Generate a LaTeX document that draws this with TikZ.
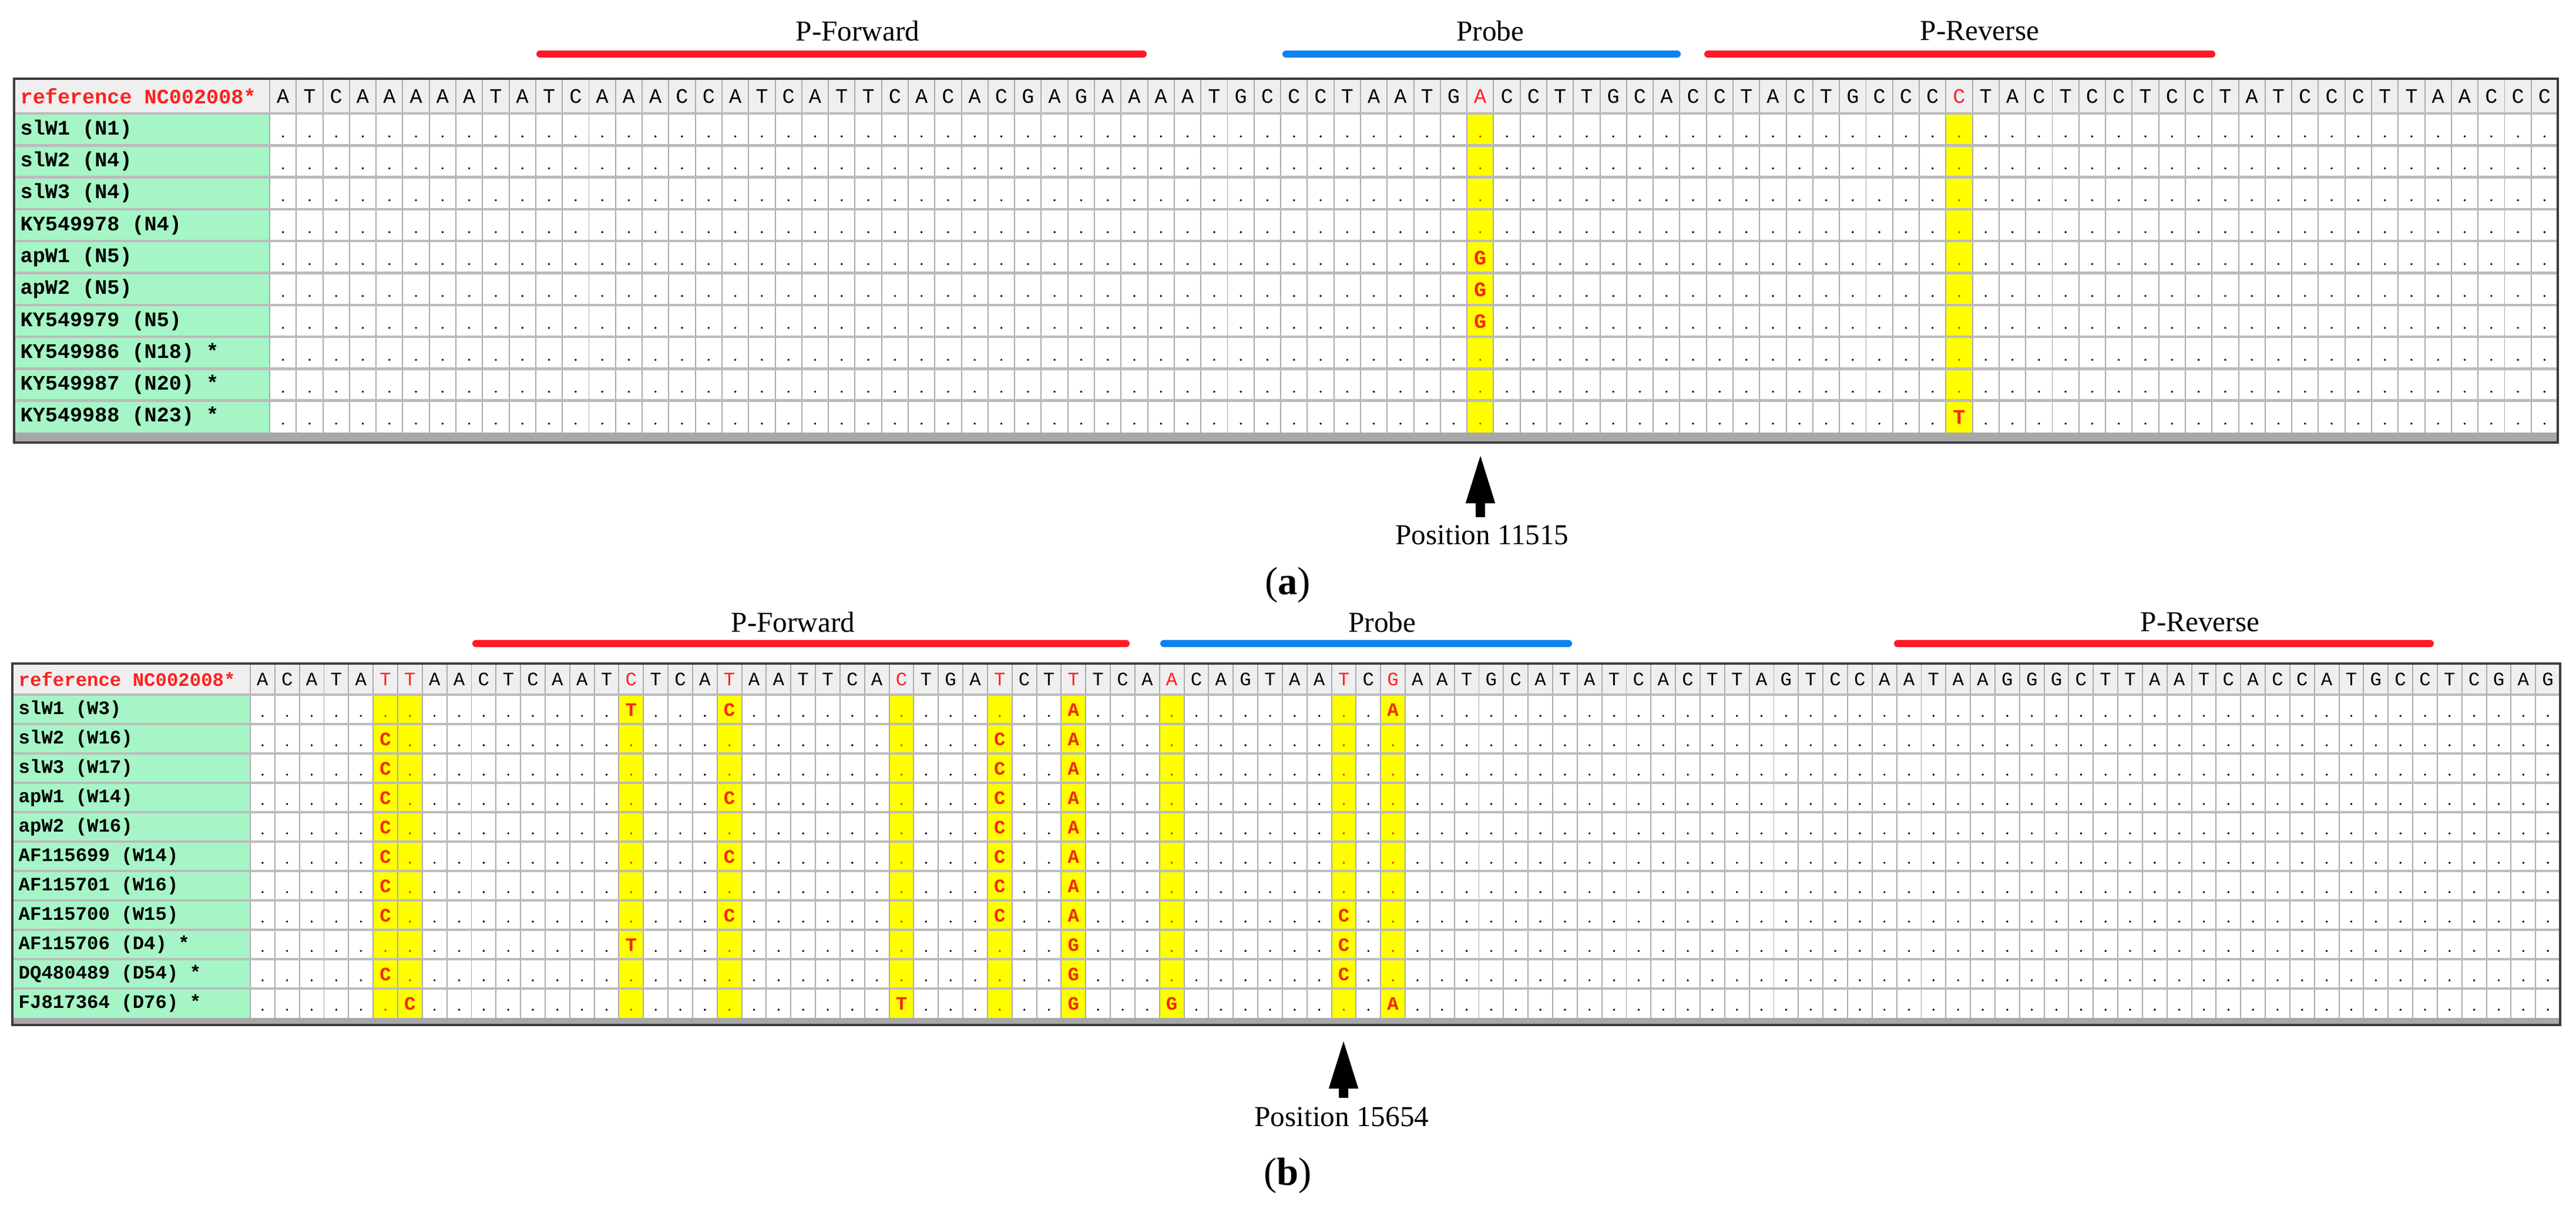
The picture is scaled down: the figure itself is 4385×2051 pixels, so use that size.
\documentclass[tikz,border=0pt]{standalone}
\usepackage{fontspec}
\usepackage{xstring}
\setmainfont{Liberation Serif}
\newfontfamily\mono{Liberation Mono}
\usetikzlibrary{arrows.meta}
\definecolor{hdrbg}{HTML}{EFEFEF}
\definecolor{namebg}{HTML}{A6F5C6}
\definecolor{yel}{HTML}{FFFF00}
\definecolor{mutred}{HTML}{F22A10}
\definecolor{refred}{HTML}{FF2020}
\definecolor{gridg}{HTML}{ABABAB}
\definecolor{rowg}{HTML}{BBBBBB}
\definecolor{stripg}{HTML}{A8A8A8}
\definecolor{bord}{HTML}{3C3C3C}
\definecolor{barred}{HTML}{FF1A25}
\definecolor{barblue}{HTML}{0A84F0}
\tikzset{
  gridv/.style={draw=gridg,line width=0.55pt},
  rowsep/.style={draw=rowg,line width=1.3pt},
  border/.style={draw=bord,line width=1.2pt},
  hl/.style={font=\mono\fontsize{\fs}{\fs}\selectfont,inner sep=0pt},
  mut/.style={font=\mono\bfseries\fontsize{\fs}{\fs}\selectfont,inner sep=0pt,text=mutred},
  nm/.style={font=\mono\bfseries\fontsize{\fs}{\fs}\selectfont,inner sep=0pt,anchor=west},
  lab/.style={font=\fontsize{14}{14}\selectfont,inner sep=0pt},
  panel/.style={font=\fontsize{19}{19}\selectfont,inner sep=0pt},
  rbar/.style={draw=barred,line width=3.4pt,line cap=round},
  bbar/.style={draw=barblue,line width=3.4pt,line cap=round},
  uparrow/.style={line width=4.3pt,-{Triangle[width=13pt 0 0,length=24pt 0 0]}}
}
\newcommand\drawtbl{%
  \pgfmathsetmacro\cw{(\tR-\tN)/\tn}%
  \pgfmathsetmacro\tB{\tH+\tr*\tm}%
  \fill[white] (\tL,\tT) rectangle (\tR,\tS);
  \fill[hdrbg] (\tL,\tT) rectangle (\tR,\tH);
  \fill[namebg] (\tL,\tH) rectangle (\tN,\tB);
  \foreach \c in \yl {\fill[yel] ({\tN+(\c-1)*\cw},\tH) rectangle ({\tN+\c*\cw},\tB);}
  \foreach \i in {0,...,\tn} {\draw[gridv] ({\tN+\i*\cw},\tT) -- ({\tN+\i*\cw},\tB);}
  \foreach \k in {1,...,\tm} {\draw[rowsep] (\tL,{\tH+(\k-1)*\tr}) -- (\tR,{\tH+(\k-1)*\tr});}
  \fill[stripg] (\tL,\tB) rectangle (\tR,\tS);
  \draw[border] (\tL,\tT) rectangle (\tR,\tS);
  \node[nm,text=refred] at (\tL+10,{(\tT+\tH)/2}) {reference NC002008*};
  \foreach \ch [count=\i] in \sq {%
    \IfSubStr{,\yl,}{,\i,}{\def\hc{refred}}{\def\hc{black}}%
    \node[hl,text=\hc] at ({\tN+(\i-0.5)*\cw},{(\tT+\tH)/2}) {\ch};}
  \foreach \nmx [count=\rr] in \names {\node[nm] at (\tL+10,{\tH+(\rr-0.5)*\tr}) {\nmx};}
  \foreach \rr in {1,...,\tm} {\foreach \i in {1,...,\tn} {%
    \IfSubStr{\mk}{,\rr-\i,}{}{%
      \IfSubStr{,\yl,}{,\i,}{\def\dc{mutred}}{\def\dc{black}}%
      \fill[\dc] ({\tN+(\i-0.5)*\cw},{\tH+(\rr-0.28)*\tr}) circle[radius=0.55pt];}}}
  \foreach \rr/\cc/\lt in \ml {\node[mut] at ({\tN+(\cc-0.5)*\cw},{\tH+(\rr-0.48)*\tr}) {\lt};}
}
\begin{document}
\begin{tikzpicture}[x=0.01cm,y=-0.01cm]
\useasboundingbox (0,0) rectangle (4385,2051);
\fill[white] (0,0) rectangle (4385,2051);
% ---------- table (a)
\def\fs{10}
\def\tL{24}\def\tN{459}\def\tR{4354}\def\tT{134}\def\tH{193}\def\tr{54.3}\def\tm{10}\def\tn{86}\def\tS{753}
\def\yl{46,64}
\def\sq{A,T,C,A,A,A,A,A,T,A,T,C,A,A,A,C,C,A,T,C,A,T,T,C,A,C,A,C,G,A,G,A,A,A,A,T,G,C,C,C,T,A,A,T,G,A,C,C,T,T,G,C,A,C,C,T,A,C,T,G,C,C,C,C,T,A,C,T,C,C,T,C,C,T,A,T,C,C,C,T,T,A,A,C,C,C}
\def\names{slW1 (N1),slW2 (N4),slW3 (N4),KY549978 (N4),apW1 (N5),apW2 (N5),KY549979 (N5),KY549986 (N18) *,KY549987 (N20) *,KY549988 (N23) *}
\def\mk{,5-46,6-46,7-46,10-64,}
\def\ml{5/46/G,6/46/G,7/46/G,10/64/T}
\drawtbl
\node[lab] (fa) at (1460,53) {P-Forward};
\node[lab] (pa) at (2537,53) {Probe};
\node[lab] (ra) at (3370,53) {P-Reverse};
\draw[rbar] (919,92) -- (1946,92);
\draw[bbar] (2189,92) -- (2855,92);
\draw[rbar] (2907,92) -- (3765,92);
\coordinate (a0) at (2520,880);
\coordinate (a1) at (2520,772);
\draw[uparrow] (a0) -- (a1);
\node[lab] (posa) at (2523,910) {Position 11515};
\node[panel] (pla) at (2192,995) {(\textbf{a})};
% ---------- table (b)
\def\fs{9.2}
\def\tL{21}\def\tN{426}\def\tR{4358}\def\tT{1129}\def\tH{1182}\def\tr{50}\def\tm{11}\def\tn{94}\def\tS{1744}
\def\yl{6,7,16,20,27,31,34,38,45,47}
\def\sq{A,C,A,T,A,T,T,A,A,C,T,C,A,A,T,C,T,C,A,T,A,A,T,T,C,A,C,T,G,A,T,C,T,T,T,C,A,A,C,A,G,T,A,A,T,C,G,A,A,T,G,C,A,T,A,T,C,A,C,T,T,A,G,T,C,C,A,A,T,A,A,G,G,G,C,T,T,A,A,T,C,A,C,C,A,T,G,C,C,T,C,G,A,G}
\def\names{slW1 (W3),slW2 (W16),slW3 (W17),apW1 (W14),apW2 (W16),AF115699 (W14),AF115701 (W16),AF115700 (W15),AF115706 (D4) *,DQ480489 (D54) *,FJ817364 (D76) *}
\def\mk{,1-16,1-20,1-34,1-47,2-6,2-31,2-34,3-6,3-31,3-34,4-6,4-20,4-31,4-34,5-6,5-31,5-34,6-6,6-20,6-31,6-34,7-6,7-31,7-34,8-6,8-20,8-31,8-34,8-45,9-16,9-34,9-45,10-6,10-34,10-45,11-7,11-27,11-34,11-38,11-47,}
\def\ml{1/16/T,1/20/C,1/34/A,1/47/A,2/6/C,2/31/C,2/34/A,3/6/C,3/31/C,3/34/A,4/6/C,4/20/C,4/31/C,4/34/A,5/6/C,5/31/C,5/34/A,6/6/C,6/20/C,6/31/C,6/34/A,7/6/C,7/31/C,7/34/A,8/6/C,8/20/C,8/31/C,8/34/A,8/45/C,9/16/T,9/34/G,9/45/C,10/6/C,10/34/G,10/45/C,11/7/C,11/27/T,11/34/G,11/38/G,11/47/A}
\drawtbl
\node[lab] (fb) at (1350,1059) {P-Forward};
\node[lab] (pb) at (2353,1059) {Probe};
\node[lab] (rb) at (3745,1059) {P-Reverse};
\draw[rbar] (810,1095) -- (1917,1095);
\draw[bbar] (1981,1095) -- (2670,1095);
\draw[rbar] (3230,1095) -- (4137,1095);
\coordinate (b0) at (2287,1868);
\coordinate (b1) at (2287,1768);
\draw[uparrow] (b0) -- (b1);
\node[lab] (posb) at (2284,1900) {Position 15654};
\node[panel] (plb) at (2192,2000) {(\textbf{b})};
\end{tikzpicture}
\end{document}
